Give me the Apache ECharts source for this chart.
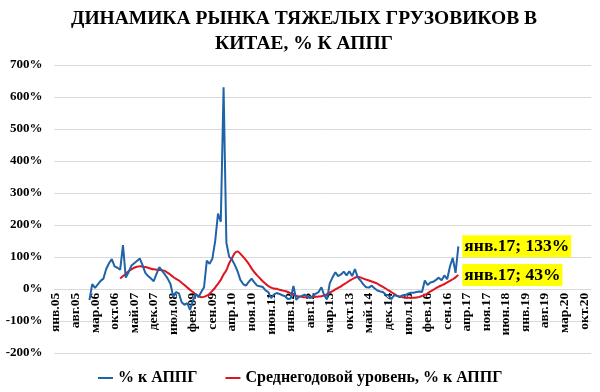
<!DOCTYPE html>
<html>
<head>
<meta charset="utf-8">
<script src="https://cdn.jsdelivr.net/npm/echarts@6/dist/echarts.min.js"></script>
<style>html,body{margin:0;padding:0;background:#fff;overflow:hidden}#c{width:600px;height:392px}</style>
</head>
<body>
<div id="c"></div>
<script>
// Month names and years for the category axis (янв.05 … дек.20)
var monthNames = ['янв','фев','мар','апр','май','июн','июл','авг','сен','окт','ноя','дек'];
var years = ['05','06','07','08','09','10','11','12','13','14','15','16','17','18','19','20'];
var yTicks = [-200, -100, 0, 100, 200, 300, 400, 500, 600, 700];

// "% к АППГ" — monthly, from янв.06 to янв.17
var blueStart = 'янв.06';
var blueValues = [
  -35, 15, 3, 14, 25, 32, 62, 80, 93, 70, 66, 60,
  137, 35, 52, 72, 80, 87, 95, 74, 50, 40, 32, 24,
  47, 68, 56, 45, 32, 15, -25, -10, -14, -42, -50, -45,
  -66, -37, -16, -26, -10, 5, 88, 78, 95, 150, 235, 210,
  630, 144, 100, 92, 75, 55, 28, 15, 10, 22, 32, 20,
  10, 8, 6, -5, -10, -29, -18, -13, -16, -20, -23, -32,
  -30, 9, -34, -25, -22, -18, -24, -29, -22, -15, -10, 5,
  -20, -33, 18, 36, 52, 40, 45, 54, 42, 55, 40, 62,
  36, 26, 14, 5, 4, 10, 2, -5, -8, -10, -18, -20,
  -32, -20, -22, -26, -20, -20, -15, -12, -12, -10, -8, -10,
  26, 12, 20, 22, 28, 35, 27, 42, 30, 70, 97, 50,
  133
];

// "Среднегодовой уровень, % к АППГ" — from дек.06 to янв.17
var redStart = 'дек.06';
var redValues = [
  32,
  40, 47, 55, 61, 66, 69, 71, 70, 68, 66, 63, 61,
  60, 59, 58, 56, 50, 44, 37, 31, 26, 19, 12, 4,
  -3, -10, -17, -22, -26, -25, -21, -15, -6, 4, 16, 28,
  45, 58, 80, 96, 112, 117, 110, 100, 90, 78, 64, 52,
  42, 33, 24, 16, 9, 4, 1, 0, -3, -5, -7, -10,
  -14, -18, -22, -24, -25, -26, -26, -26, -26, -25, -24, -23,
  -21, -17, -12, -7, -2, 3, 8, 14, 19, 25, 30, 35,
  38, 36, 32, 29, 26, 23, 20, 16, 11, 6, 1, -5,
  -10, -16, -21, -24, -26, -27, -28, -28, -28, -27, -25, -22,
  -19, -14, -8, -3, 2, 7, 11, 15, 20, 25, 30, 36,
  43
];

var categories = [];
years.forEach(function (y) { monthNames.forEach(function (m) { categories.push(m + '.' + y); }); });

var serif = "'Liberation Serif', 'Times New Roman', serif";

function buildSeries(startName, values) {
  var start = categories.indexOf(startName);
  var out = [];
  for (var k = 0; k < categories.length; k++) {
    var j = k - start;
    if (j >= 0 && j < values.length) {
      if (j === values.length - 1) {
        out.push({ value: values[j], label: { show: true } });
      } else {
        out.push(values[j]);
      }
    } else {
      out.push(null);
    }
  }
  return out;
}

var labelStyle = {
  show: false,
  position: 'right',
  distance: 4,
  formatter: function (p) { return p.name + '; ' + p.value + '%'; },
  fontFamily: serif,
  fontWeight: 'bold',
  fontSize: 17.5,
  lineHeight: 18,
  color: '#000',
  backgroundColor: '#ffff00',
  padding: [2, 2, 2, 2]
};

var gridTop = 65, gridBottom = 39.2, chartH = 392;
var plotH = chartH - gridTop - gridBottom;
var zeroOffset = -plotH * (0 - yTicks[0]) / (yTicks[yTicks.length - 1] - yTicks[0]);

var chart = echarts.init(document.getElementById('c'), null, { renderer: 'canvas' });
chart.setOption({
  animation: false,
  backgroundColor: '#fff',
  title: {
    text: 'ДИНАМИКА РЫНКА ТЯЖЕЛЫХ ГРУЗОВИКОВ В\nКИТАЕ, % К АППГ',
    left: 299,
    textAlign: 'center',
    top: 1,
    textStyle: { fontFamily: serif, fontWeight: 'bold', fontSize: 19.5, lineHeight: 25, color: '#000' }
  },
  legend: {
    left: 93,
    top: 365,
    itemWidth: 15,
    itemHeight: 2,
    itemGap: 28,
    icon: 'rect',
    textStyle: { fontFamily: serif, fontWeight: 'bold', fontSize: 16, color: '#000' },
    data: ['% к АППГ', 'Среднегодовой уровень, % к АППГ']
  },
  grid: { left: 54.5, right: 8.9, top: gridTop, bottom: gridBottom, containLabel: false, outerBoundsMode: 'none' },
  xAxis: {
    type: 'category',
    data: categories,
    boundaryGap: true,
    offset: zeroOffset,
    axisLine: { onZero: false, lineStyle: { color: '#d9d9d9', width: 1 } },
    axisTick: { show: false },
    axisLabel: {
      interval: 6,
      rotate: 90,
      margin: 4,
      fontFamily: serif,
      fontWeight: 'bold',
      fontSize: 13.5,
      color: '#000'
    },
    splitLine: { show: false }
  },
  yAxis: {
    type: 'value',
    min: yTicks[0],
    max: yTicks[yTicks.length - 1],
    interval: 100,
    axisLine: { show: false },
    axisTick: { show: false },
    axisLabel: {
      formatter: '{value}%',
      margin: 12,
      fontFamily: serif,
      fontWeight: 'bold',
      fontSize: 13,
      color: '#000'
    },
    splitLine: { lineStyle: { color: '#d9d9d9', width: 1 } }
  },
  series: [
    {
      name: '% к АППГ',
      type: 'line',
      data: buildSeries(blueStart, blueValues),
      showSymbol: true,
      showAllSymbol: true,
      symbol: 'circle',
      symbolSize: 0,
      connectNulls: false,
      lineStyle: { color: '#1f63a8', width: 2 },
      itemStyle: { color: '#1f63a8' },
      label: labelStyle,
      z: 3
    },
    {
      name: 'Среднегодовой уровень, % к АППГ',
      type: 'line',
      data: buildSeries(redStart, redValues),
      showSymbol: true,
      showAllSymbol: true,
      symbol: 'circle',
      symbolSize: 0,
      smooth: 0.3,
      lineStyle: { color: '#e0141e', width: 2 },
      itemStyle: { color: '#e0141e' },
      label: labelStyle,
      z: 2
    }
  ]
});
</script>
</body>
</html>
